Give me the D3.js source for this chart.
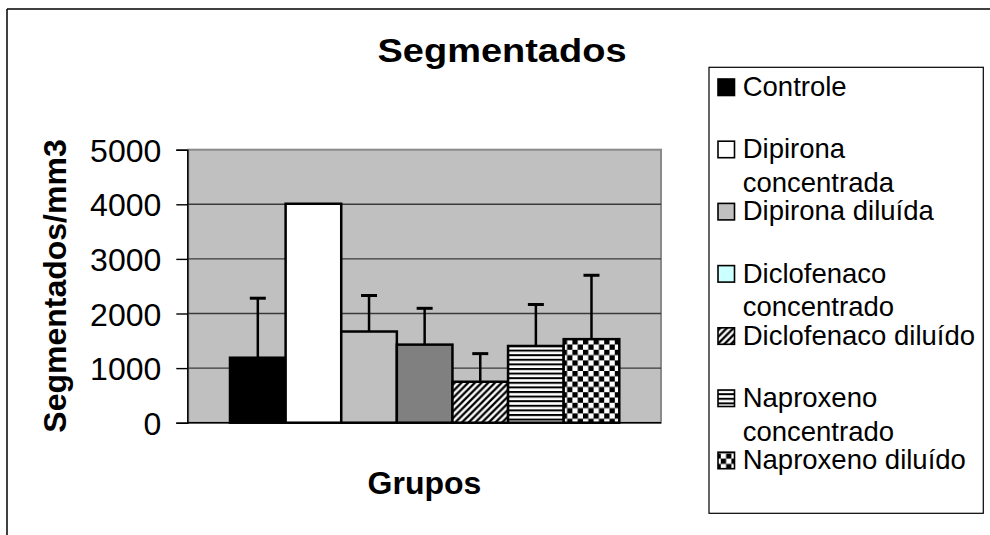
<!DOCTYPE html>
<html><head><meta charset="utf-8">
<script src="https://cdn.jsdelivr.net/npm/d3@7"></script>
<style>body{margin:0;background:#fff}svg{display:block;font-family:"Liberation Sans",Arial,sans-serif}</style>
</head><body><svg id="c" width="990" height="535"></svg>
<script>
const categories = ["Controle","Dipirona concentrada","Dipirona diluída","Diclofenaco concentrado","Diclofenaco diluído","Naproxeno concentrado","Naproxeno diluído"];
const legendLines = [["Controle"],["Dipirona","concentrada"],["Dipirona diluída"],["Diclofenaco","concentrado"],["Diclofenaco diluído"],["Naproxeno","concentrado"],["Naproxeno diluído"]];
const means = [1190, 4010, 1670, 1430, 750, 1405, 1530];
const sds = [1090, 0, 660, 665, 515, 760, 1170];
const yTicks = [0, 1000, 2000, 3000, 4000, 5000];
const groupLabel = "Grupos";
const titleText = "Segmentados";
const yLabel = "Segmentados/mm3";

const barFill = ["#000000","#ffffff","#c0c0c0","#808080","url(#pDiag)","url(#pHoriz)","url(#pCheck)"];
const swatchFill = ["#000000","#ffffff","#c0c0c0","#ccffff","url(#pDiag)","url(#pHoriz)","url(#pCheck)"];

const svg = d3.select("#c");
const defs = svg.append("defs");
const pd = defs.append("pattern").attr("id","pDiag").attr("patternUnits","userSpaceOnUse").attr("width",6.7).attr("height",6.7);
pd.append("rect").attr("width",6.7).attr("height",6.7).attr("fill","#fff");
pd.append("path").attr("d","M0,6.7L6.7,0M-1.7,1.7L1.7,-1.7M5,8.4L8.4,5").attr("stroke","#000").attr("stroke-width",2.3);
const ph = defs.append("pattern").attr("id","pHoriz").attr("patternUnits","userSpaceOnUse").attr("width",10).attr("height",4.6);
ph.append("rect").attr("width",10).attr("height",4.6).attr("fill","#fff");
ph.append("rect").attr("width",10).attr("height",2).attr("fill","#000");
const pc = defs.append("pattern").attr("id","pCheck").attr("patternUnits","userSpaceOnUse").attr("width",10.6).attr("height",10.6);
pc.append("rect").attr("width",10.6).attr("height",10.6).attr("fill","#fff");
pc.append("rect").attr("width",5.3).attr("height",5.3).attr("fill","#000");
pc.append("rect").attr("x",5.3).attr("y",5.3).attr("width",5.3).attr("height",5.3).attr("fill","#000");

svg.append("line").attr("x1",7).attr("y1",9).attr("x2",990).attr("y2",9).attr("stroke","#000").attr("stroke-width",1.5);
svg.append("line").attr("x1",7).attr("y1",9).attr("x2",7).attr("y2",535).attr("stroke","#000").attr("stroke-width",1.5);

const plotL = 188.3, plotR = 661, plotT = 149.7, plotB = 422.7;
const y = d3.scaleLinear().domain([0,5000]).range([plotB, plotT]);
const x = d3.scaleBand().domain(categories).range([plotL, plotR]).paddingInner(0).paddingOuter(0.75);

svg.append("rect").attr("x",plotL).attr("y",plotT).attr("width",plotR-plotL).attr("height",plotB-plotT)
  .attr("fill","#c0c0c0").attr("stroke","#8a8a8a").attr("stroke-width",2);

svg.append("g").selectAll("line").data(yTicks.filter(d=>d>0 && d<5000)).join("line")
  .attr("x1",plotL).attr("x2",plotR).attr("y1",d=>y(d)).attr("y2",d=>y(d))
  .attr("stroke","#3a3a3a").attr("stroke-width",1.4);

const ax = svg.append("g").attr("transform",`translate(${plotL-1},0)`)
  .call(d3.axisLeft(y).tickValues(yTicks).tickSize(11).tickPadding(15).tickFormat(d3.format("d")));
ax.select(".domain").attr("stroke","#000").attr("stroke-width",1.5);
ax.selectAll(".tick line").attr("stroke","#000").attr("stroke-width",1.4);
ax.selectAll(".tick text").attr("font-size",32).attr("fill","#000").attr("font-family","Liberation Sans, Arial, sans-serif").attr("dy","0.36em");

svg.append("g").selectAll("rect").data(categories).join("rect")
  .attr("x",d=>x(d)).attr("width",x.bandwidth())
  .attr("y",(d,i)=>y(means[i])).attr("height",(d,i)=>y(0)-y(means[i]))
  .attr("fill",(d,i)=>barFill[i]).attr("stroke","#000").attr("stroke-width",2.5);

const eb = svg.append("g").selectAll("g").data(categories.filter((d,i)=>sds[i]>0)).join("g");
eb.append("line")
  .attr("x1",d=>x(d)+x.bandwidth()/2).attr("x2",d=>x(d)+x.bandwidth()/2)
  .attr("y1",d=>y(means[categories.indexOf(d)])).attr("y2",d=>{const i=categories.indexOf(d);return y(means[i]+sds[i]);})
  .attr("stroke","#000").attr("stroke-width",2.5);
eb.append("line")
  .attr("x1",d=>x(d)+x.bandwidth()/2-8).attr("x2",d=>x(d)+x.bandwidth()/2+8)
  .attr("y1",d=>{const i=categories.indexOf(d);return y(means[i]+sds[i]);}).attr("y2",d=>{const i=categories.indexOf(d);return y(means[i]+sds[i]);})
  .attr("stroke","#000").attr("stroke-width",3);

svg.append("line").attr("x1",plotL-1).attr("x2",plotR).attr("y1",plotB).attr("y2",plotB).attr("stroke","#000").attr("stroke-width",1.5);

svg.append("text").attr("x",502).attr("y",62).attr("text-anchor","middle").attr("font-size",33).attr("font-weight","bold")
  .attr("textLength",249).attr("lengthAdjust","spacingAndGlyphs").text(titleText);
svg.append("text").attr("x",424.5).attr("y",494).attr("text-anchor","middle").attr("font-size",32).attr("font-weight","bold").text(groupLabel);
svg.append("text").attr("transform","translate(66,286) rotate(-90)").attr("text-anchor","middle").attr("font-size",32).attr("font-weight","bold").text(yLabel);

svg.append("rect").attr("x",709).attr("y",67.3).attr("width",274.3).attr("height",446).attr("fill","#fff").attr("stroke","#000").attr("stroke-width",1.2);
const lg = svg.append("g").selectAll("g").data(categories).join("g")
  .attr("transform",(d,i)=>`translate(0,${96 + i*62.2})`);
lg.append("rect").attr("x",718).attr("y",-17).attr("width",16.5).attr("height",16.5)
  .attr("fill",(d,i)=>swatchFill[i]).attr("stroke","#000").attr("stroke-width",1.6);
lg.each(function(d,i){
  const g = d3.select(this);
  legendLines[i].forEach((t,j)=>{
    g.append("text").attr("x",742.7).attr("y",j*33.5).attr("font-size",27.5).attr("fill","#000").text(t);
  });
});
</script></body></html>
